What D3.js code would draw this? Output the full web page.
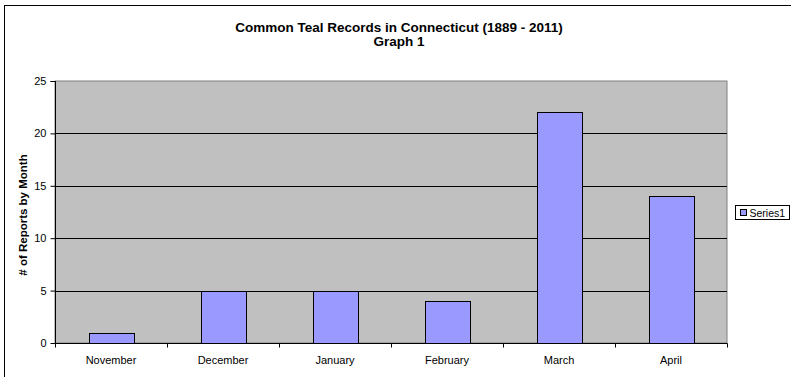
<!DOCTYPE html>
<html>
<head>
<meta charset="utf-8">
<script src="https://cdn.jsdelivr.net/npm/d3@7"></script>
<style>
  body { margin: 0; background: #fff; }
  svg text { font-family: "Liberation Sans", Arial, sans-serif; }
</style>
</head>
<body>
<svg id="chart" width="791" height="377"></svg>
<script>
// chart data
const months = ['November', 'December', 'January', 'February', 'March', 'April'];
const reports = [1, 5, 5, 4, 22, 14];
const yTicks = [0, 5, 10, 15, 20, 25];
const titleLines = ['Common Teal Records in Connecticut (1889 - 2011)', 'Graph 1'];
const seriesName = 'Series1';

const svg = d3.select('#chart');
const plot = { left: 55, top: 81, right: 727, bottom: 343 };

// outer chart frame (right and bottom edges fall outside the picture)
svg.append('rect')
    .attr('x', 4.5).attr('y', 5.5)
    .attr('width', 800).attr('height', 400)
    .attr('fill', '#fff')
    .attr('stroke', '#000')
    .attr('stroke-width', 1);

const x = d3.scaleBand()
    .domain(months)
    .range([plot.left, plot.right])
    .paddingInner(0.6)
    .paddingOuter(0.3);

const y = d3.scaleLinear()
    .domain([0, 25])
    .range([plot.bottom, plot.top]);

// plot background
svg.append('rect')
    .attr('x', plot.left).attr('y', plot.top)
    .attr('width', plot.right - plot.left)
    .attr('height', plot.bottom - plot.top)
    .attr('fill', '#c0c0c0')
    .attr('stroke', '#808080');

// gridlines
svg.append('g')
    .selectAll('line')
    .data(yTicks.filter((t) => t > 0 && t < 25))
    .join('line')
    .attr('x1', plot.left).attr('x2', plot.right)
    .attr('y1', (d) => Math.round(y(d)) + 0.5)
    .attr('y2', (d) => Math.round(y(d)) + 0.5)
    .attr('stroke', '#000');

// bars
svg.append('g')
    .selectAll('rect')
    .data(reports)
    .join('rect')
    .attr('x', (d, i) => Math.round(x(months[i])) + 0.5)
    .attr('y', (d) => Math.round(y(d)) + 0.5)
    .attr('width', Math.round(x.bandwidth()))
    .attr('height', (d) => Math.round(y(0)) - Math.round(y(d)))
    .attr('fill', '#9999ff')
    .attr('stroke', '#000');

// y axis
const yAxis = svg.append('g')
    .attr('transform', `translate(${plot.left + 0.5},0)`)
    .call(d3.axisLeft(y).tickValues(yTicks).tickSize(5).tickPadding(4));
yAxis.select('.domain').attr('stroke', '#000').attr('d', `M-5,${plot.top + 0.5}H0V${plot.bottom + 0.5}`);
yAxis.selectAll('text').attr('font-size', 11).attr('fill', '#000');

// x axis: ticks on category boundaries
const xAxis = svg.append('g')
    .attr('transform', `translate(0,${plot.bottom + 0.5})`);
xAxis.append('line')
    .attr('x1', plot.left).attr('x2', plot.right + 0.5)
    .attr('stroke', '#000');
xAxis.selectAll('line.tick')
    .data(d3.range(months.length + 1))
    .join('line')
    .attr('class', 'tick')
    .attr('x1', (i) => Math.round(plot.left + i * x.step()) + 0.5)
    .attr('x2', (i) => Math.round(plot.left + i * x.step()) + 0.5)
    .attr('y1', 0).attr('y2', 4)
    .attr('stroke', '#000');
xAxis.selectAll('text')
    .data(months)
    .join('text')
    .attr('x', (d) => x(d) + x.bandwidth() / 2)
    .attr('y', 20)
    .attr('text-anchor', 'middle')
    .attr('font-size', 11)
    .text((d) => d);

// title
svg.append('g')
    .selectAll('text')
    .data(titleLines)
    .join('text')
    .attr('x', 399)
    .attr('y', (d, i) => 32 + i * 14)
    .attr('text-anchor', 'middle')
    .attr('font-size', 13.5)
    .attr('font-weight', 'bold')
    .text((d) => d);

// y axis title
svg.append('text')
    .attr('transform', 'translate(27,215) rotate(-90)')
    .attr('text-anchor', 'middle')
    .attr('font-size', 11.5)
    .attr('font-weight', 'bold')
    .text('# of Reports by Month');

// legend
const legend = svg.append('g').attr('transform', 'translate(735.5,205.5)');
legend.append('rect')
    .attr('width', 54).attr('height', 14)
    .attr('fill', '#fff')
    .attr('stroke', '#000');
legend.append('rect')
    .attr('x', 5).attr('y', 4)
    .attr('width', 6).attr('height', 6)
    .attr('fill', '#9999ff')
    .attr('stroke', '#000');
legend.append('text')
    .attr('x', 14).attr('y', 11)
    .attr('font-size', 10.5)
    .text(seriesName);
</script>
</body>
</html>
